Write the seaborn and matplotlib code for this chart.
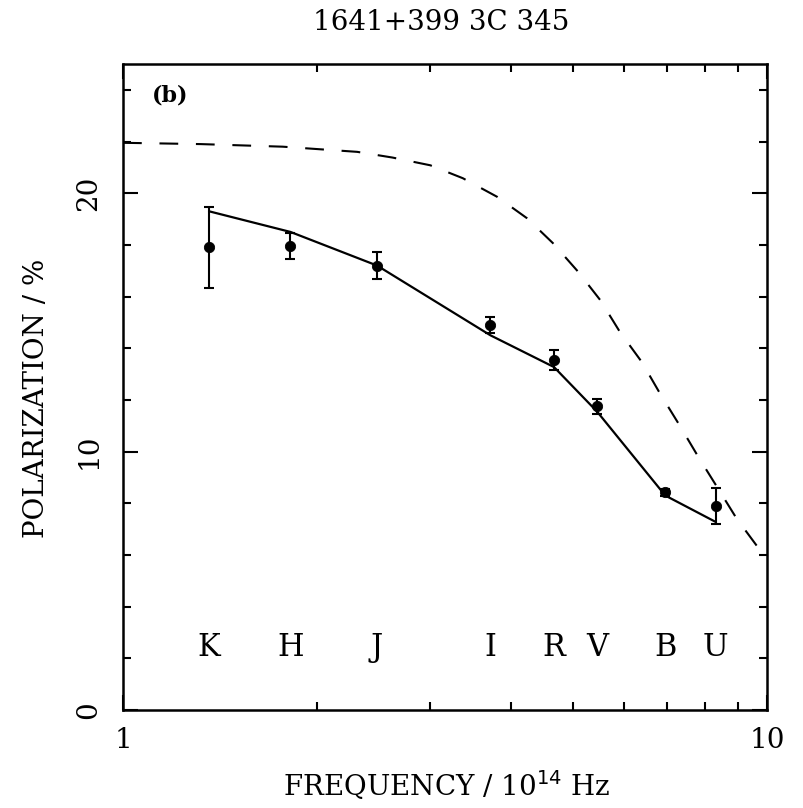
import matplotlib
matplotlib.use("Agg")
import matplotlib.pyplot as plt
import seaborn as sns
import pandas as pd
from matplotlib.ticker import MultipleLocator, LogLocator, NullFormatter, FixedLocator

# measured polarization per band
bands = ["K", "H", "J", "I", "R", "V", "B", "U"]
band_freq = [1.36, 1.82, 2.48, 3.72, 4.67, 5.45, 6.95, 8.32]
pol = [17.9, 17.95, 17.2, 14.9, 13.55, 11.75, 8.42, 7.9]
pol_err = [1.55, 0.5, 0.53, 0.3, 0.4, 0.3, 0.15, 0.7]

# fitted model at the band frequencies (solid line)
model_pol = [19.3, 18.5, 17.2, 14.5, 13.27, 11.54, 8.3, 7.28]

# dashed curve
dash_freq = [1.0, 1.32, 1.77, 2.31, 2.62, 3.0, 3.37, 3.81, 4.24, 4.65, 5.09,
             5.51, 5.91, 6.39, 6.82, 7.31, 7.82, 8.36, 8.97, 9.75, 10.0]
dash_pol = [21.95, 21.9, 21.8, 21.6, 21.38, 21.08, 20.58, 19.86, 19.03, 18.07,
            16.96, 15.86, 14.63, 13.47, 12.25, 11.03, 9.8, 8.64, 7.41, 6.19, 5.85]

sns.set_theme(style="ticks", rc={"text.color": "black", "axes.labelcolor": "black",
                                 "xtick.color": "black", "ytick.color": "black",
                                 "axes.edgecolor": "black"})
plt.rcParams["font.family"] = ["DejaVu Serif"]

fig = plt.figure(figsize=(8.04, 8.08), dpi=100)
ax = fig.add_axes([0.153, 0.1213, 0.801, 0.7995])

obs = pd.DataFrame({"freq": band_freq, "pol": pol, "err": pol_err, "model": model_pol})
curve = pd.DataFrame({"freq": dash_freq, "pol": dash_pol})

sns.lineplot(data=curve, x="freq", y="pol", ax=ax, color="black", lw=1.5,
             linestyle=(0, (9, 8.5)))
sns.lineplot(data=obs, x="freq", y="model", ax=ax, color="black", lw=1.6)
ax.errorbar(obs["freq"], obs["pol"], yerr=obs["err"], fmt="none", ecolor="black",
            elinewidth=1.5, capsize=3.5, capthick=1.5)
sns.scatterplot(data=obs, x="freq", y="pol", ax=ax, color="black", s=55,
                edgecolor="black", zorder=5)

for b, f in zip(bands, band_freq):
    ax.text(f, 2.4, b, ha="center", va="center", fontsize=22)

ax.text(0.045, 0.952, "(b)", transform=ax.transAxes, fontsize=16,
        fontweight="bold", va="center", ha="left")

ax.set_xscale("log")
ax.set_xlim(1, 10)
ax.set_ylim(0, 25)
ax.xaxis.set_major_locator(FixedLocator([1, 10]))
ax.set_xticklabels(["1", "10"])
ax.xaxis.set_minor_locator(LogLocator(base=10, subs=range(2, 10)))
ax.xaxis.set_minor_formatter(NullFormatter())
ax.yaxis.set_major_locator(MultipleLocator(10))
ax.yaxis.set_minor_locator(MultipleLocator(2))

ax.tick_params(which="both", direction="in", top=True, right=True,
               labelsize=20, width=1.5, colors="black")
ax.tick_params(which="major", length=11)
ax.tick_params(which="minor", length=6)
ax.tick_params(axis="x", pad=12)
ax.tick_params(axis="y", pad=15, labelrotation=90)
for lab in ax.get_yticklabels():
    lab.set_va("center")
for s in ax.spines.values():
    s.set_linewidth(1.8)

ax.set_xlabel("FREQUENCY / 10$^{14}$ Hz", fontsize=20, va="top")
ax.xaxis.set_label_coords(0.503, -0.09)
ax.set_ylabel("POLARIZATION / %", fontsize=20)
ax.yaxis.set_label_coords(-0.113, 0.483)
fig.text(441 / 804, 1 - 22 / 808, "1641+399 3C 345", ha="center", va="center",
         fontsize=20)

fig.savefig("out.png", dpi=100)
plt.close()
